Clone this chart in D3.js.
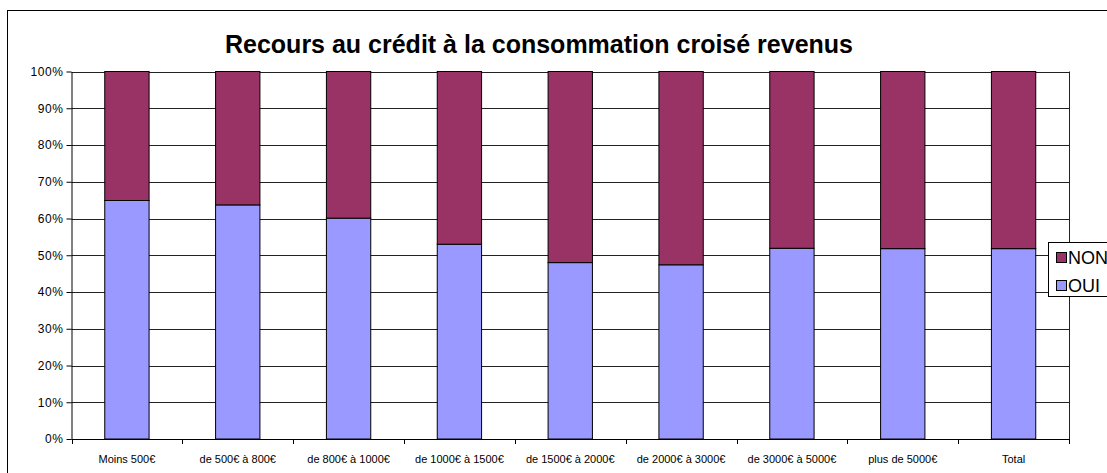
<!DOCTYPE html>
<html>
<head>
<meta charset="utf-8">
<script src="https://cdn.jsdelivr.net/npm/d3@7"></script>
<style>
  body { margin: 0; background: #fff; }
  text { font-family: Arial, "Liberation Sans", sans-serif; }
</style>
</head>
<body>
<svg id="chart" width="1107" height="473"></svg>
<script>
const categories = ['Moins 500€', 'de 500€ à 800€', 'de 800€ à 1000€', 'de 1000€ à 1500€',
  'de 1500€ à 2000€', 'de 2000€ à 3000€', 'de 3000€ à 5000€', 'plus de 5000€', 'Total']
const oui = [64.9, 63.7, 60.1, 53.0, 48.0, 47.4, 51.9, 51.8, 51.8]
const non = oui.map((d) => 100 - d)
const seriesNames = ['OUI', 'NON']
const colors = { OUI: '#9999FF', NON: '#993366' }
const yTicks = [0, 10, 20, 30, 40, 50, 60, 70, 80, 90, 100]
const title = 'Recours au crédit à la consommation croisé revenus'

window.addEventListener('load', makeChart)
function makeChart() {
  const svg = d3.select('#chart')
  const left = 71.5, right = 1069, top = 71.5, bottom = 439

  // outer frame
  svg.append('rect')
    .attr('x', 7.5).attr('y', 10.5)
    .attr('width', 1200).attr('height', 500)
    .attr('fill', 'white').attr('stroke', 'black')

  svg.append('text')
    .attr('x', 539).attr('y', 53)
    .attr('text-anchor', 'middle')
    .attr('font-size', 25).attr('font-weight', 'bold')
    .text(title)

  const scX = d3.scaleBand().domain(categories).range([left, right])
    .paddingInner(0.6).paddingOuter(0.3)
  const scY = d3.scaleLinear().domain([0, 100]).range([bottom, top])

  // grid
  svg.append('g').selectAll('line')
    .data(yTicks.slice(1))
    .enter().append('line')
    .attr('x1', left).attr('x2', right)
    .attr('y1', (d) => Math.round(scY(d)) + 0.5)
    .attr('y2', (d) => Math.round(scY(d)) + 0.5)
    .attr('stroke', '#222')

  svg.append('line')
    .attr('x1', right + 0.5).attr('x2', right + 0.5)
    .attr('y1', top).attr('y2', bottom)
    .attr('stroke', '#222')

  // bars
  const stack = d3.stack().keys(seriesNames)
  const rows = categories.map((c, i) => ({ cat: c, OUI: oui[i], NON: non[i] }))
  svg.append('g').selectAll('g')
    .data(stack(rows))
    .enter().append('g')
    .attr('fill', (s) => colors[s.key])
    .selectAll('rect')
    .data((s) => s)
    .enter().append('rect')
    .attr('x', (d) => scX(d.data.cat))
    .attr('width', scX.bandwidth())
    .attr('y', (d) => scY(d[1]))
    .attr('height', (d) => scY(d[0]) - scY(d[1]))
    .attr('stroke', 'black')
    .attr('stroke-width', 1)

  // y axis
  const yAxis = d3.axisLeft(scY).tickValues(yTicks)
    .tickFormat((d) => d + '%').tickSize(5).tickSizeOuter(0)
  svg.append('g')
    .attr('transform', `translate(${left},0)`)
    .call(yAxis)
    .call((g) => g.selectAll('text').attr('font-size', 12).attr('font-family', 'Arial, "Liberation Sans", sans-serif').attr('x', -8).attr('letter-spacing', 0.6))
    .call((g) => g.selectAll('line, path').attr('stroke', 'black'))

  // x axis with ticks at band edges
  const xAxisG = svg.append('g')
  xAxisG.append('line')
    .attr('x1', left).attr('x2', right + 1)
    .attr('y1', bottom + 0.5).attr('y2', bottom + 0.5)
    .attr('stroke', 'black')
  xAxisG.selectAll('.tk')
    .data(d3.range(categories.length + 1))
    .enter().append('line')
    .attr('x1', (i) => Math.round(left + i * (right - left) / categories.length) + 0.5)
    .attr('x2', (i) => Math.round(left + i * (right - left) / categories.length) + 0.5)
    .attr('y1', bottom).attr('y2', bottom + 5)
    .attr('stroke', 'black')
  xAxisG.selectAll('text')
    .data(categories)
    .enter().append('text')
    .attr('x', (d) => scX(d) + scX.bandwidth() / 2)
    .attr('y', 463)
    .attr('text-anchor', 'middle')
    .attr('font-size', 11)
    .text((d) => d)

  // legend
  const lg = svg.append('g')
  lg.append('rect')
    .attr('x', 1048.5).attr('y', 242.5)
    .attr('width', 100).attr('height', 54)
    .attr('fill', 'white').attr('stroke', 'black')
  const entries = ['NON', 'OUI']
  lg.selectAll('.sw')
    .data(entries)
    .enter().append('rect')
    .attr('x', 1056.5).attr('y', (d, i) => 252.5 + i * 28)
    .attr('width', 10).attr('height', 10)
    .attr('fill', (d) => colors[d]).attr('stroke', 'black')
  lg.selectAll('.lt')
    .data(entries)
    .enter().append('text')
    .attr('x', 1068).attr('y', (d, i) => 264 + i * 28)
    .attr('font-size', 18)
    .text((d) => d)
}
</script>
</body>
</html>
